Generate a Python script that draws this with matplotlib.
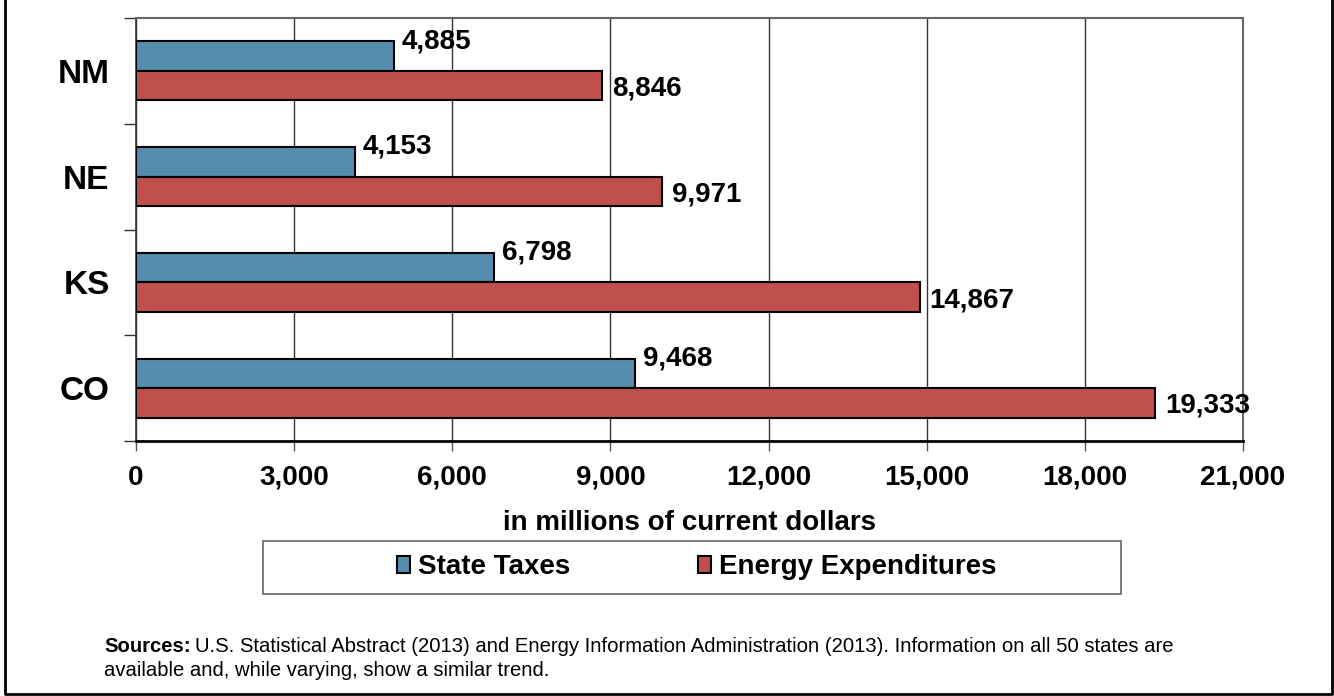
import matplotlib
matplotlib.use("Agg")
import matplotlib.pyplot as plt
import numpy as np
from matplotlib.patches import Rectangle
from matplotlib.lines import Line2D

states = ["CO", "KS", "NE", "NM"]
state_taxes = [9468, 6798, 4153, 4885]
energy_exp = [19333, 14867, 9971, 8846]
xticks = [0, 3000, 6000, 9000, 12000, 15000, 18000, 21000]
series_names = ["State Taxes", "Energy Expenditures"]

BLUE = "#558DAE"
RED = "#C0504D"

plt.rcParams['font.family'] = ['Liberation Sans', 'DejaVu Sans']

fig = plt.figure(figsize=(13.34, 6.96), dpi=100)
ax = fig.add_axes([136/1334, 1-441/696, (1243-136)/1334, (441-18)/696])

y = np.arange(len(states))
h = 0.28
ax.barh(y + 0.14, state_taxes, height=h, color=BLUE, edgecolor="black", linewidth=1.5, zorder=3)
ax.barh(y - 0.14, energy_exp, height=h, color=RED, edgecolor="black", linewidth=1.5, zorder=3)

for yi, v in zip(y, state_taxes):
    ax.annotate(f"{v:,}", xy=(v, yi + 0.14), xytext=(8, 15), textcoords="offset pixels",
                ha="left", va="center", fontsize=20, fontweight="bold", zorder=5)
for yi, v in zip(y, energy_exp):
    ax.annotate(f"{v:,}", xy=(v, yi - 0.14), xytext=(10, -3), textcoords="offset pixels",
                ha="left", va="center", fontsize=20, fontweight="bold", zorder=5)

ax.set_xlim(0, 21000)
ax.set_ylim(-0.5, 3.5)
ax.set_xticks(xticks)
ax.set_xticklabels([f"{t:,}" for t in xticks], fontsize=20, fontweight="bold")
ax.tick_params(axis="x", length=7, width=1, color="#555555", pad=10)

ax.set_yticks(np.arange(-0.5, 4.0, 1.0))
ax.set_yticklabels([])
ax.set_yticks(y, minor=True)
ax.set_yticklabels(states, minor=True, fontsize=24, fontweight="bold")
ax.tick_params(axis="y", which="major", length=9, width=1, color="#333333")
ax.tick_params(axis="y", which="minor", length=0, pad=19)
for lbl in ax.get_yticklabels(minor=True):
    lbl.set_y(lbl.get_position()[1])

ax.grid(axis="x", color="#333333", linewidth=1, zorder=0)
ax.set_axisbelow(True)
for s in ["top", "right"]:
    ax.spines[s].set_color("#666666")
    ax.spines[s].set_linewidth(1.5)
ax.spines["left"].set_color("#333333")
ax.spines["left"].set_linewidth(1.2)
ax.spines["bottom"].set_color("black")
ax.spines["bottom"].set_linewidth(2)

ax.set_xlabel("in millions of current dollars", fontsize=20, fontweight="bold", labelpad=14)

# legend
handles = [Rectangle((0, 0), 1, 1, facecolor=BLUE, edgecolor="black", linewidth=1.5),
           Rectangle((0, 0), 1, 1, facecolor=RED, edgecolor="black", linewidth=1.5)]
fig.patches.append(Rectangle((263/1334, 1-594/696), (1121-263)/1334, (594-541)/696,
                             transform=fig.transFigure, facecolor="white",
                             edgecolor="#666666", linewidth=1.2))
leg = fig.legend(handles, series_names, loc="center", bbox_to_anchor=(697/1334, 1-567/696),
                 ncol=2, frameon=False, prop={"size": 20, "weight": "bold"},
                 handlelength=0.45, handleheight=0.55, handletextpad=0.3, columnspacing=4.6)

# outer frame
fig.lines.append(Line2D([5/1334, 5/1334, 1332/1334, 1332/1334], [1, 1-694/696, 1-694/696, 1],
                        transform=fig.transFigure, color="black", linewidth=2))

# sources
fs = 14.6
t1 = fig.text(104/1334, 1-647/696, "Sources:", fontsize=fs, fontweight="bold", va="center", ha="left")
fig.canvas.draw()
r = fig.canvas.get_renderer()
bb = t1.get_window_extent(r)
fig.text((bb.x1 + 4)/1334, 1-647/696,
         "U.S. Statistical Abstract (2013) and Energy Information Administration (2013). Information on all 50 states are",
         fontsize=fs, va="center", ha="left")
fig.text(104/1334, 1-671/696, "available and, while varying, show a similar trend.",
         fontsize=fs, va="center", ha="left")

fig.savefig("out.png", dpi=100)
